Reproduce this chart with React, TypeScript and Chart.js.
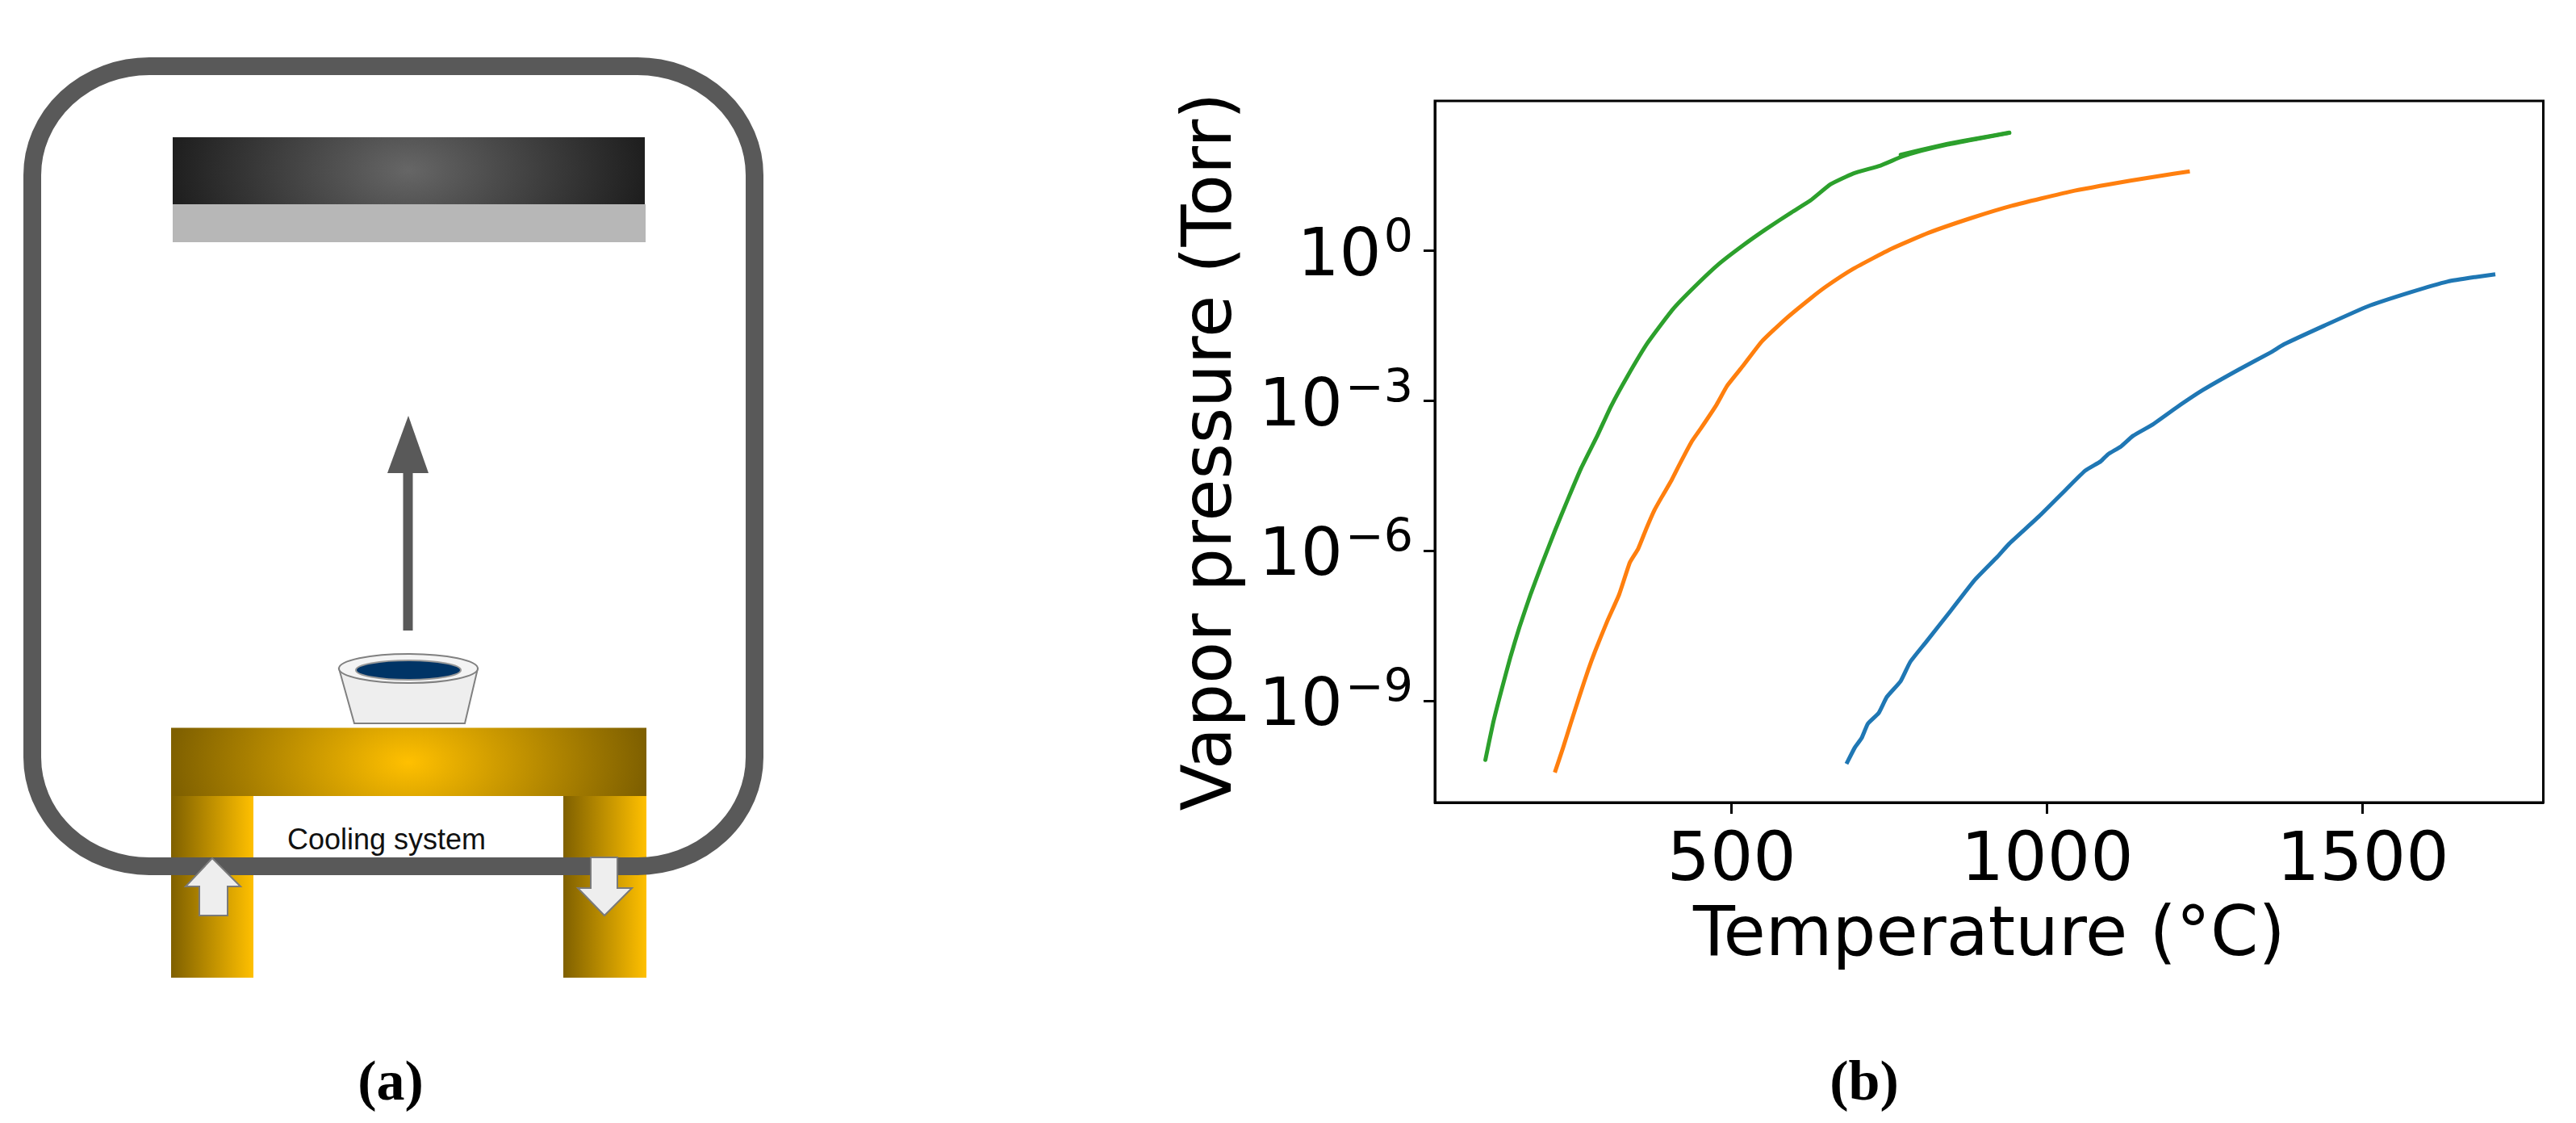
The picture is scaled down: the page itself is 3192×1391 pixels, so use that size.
import { useEffect, useRef } from "react"
import { Chart, registerables } from "chart.js"

Chart.register(...registerables)

const FONT = "'DejaVu Sans'"

// Temperature in °C, pressure in Torr
const blueTemps = [682, 695, 706, 716, 733, 746, 768, 783, 808, 847, 885, 921, 940, 987, 1030, 1060, 1085, 1096, 1117, 1136, 1166, 1205, 1247, 1303, 1354, 1375, 1439, 1507, 1575, 1635, 1678, 1710]
const bluePressures = [5.5e-11, 1.15e-10, 1.8e-10, 3.5e-10, 5.7e-10, 1.2e-9, 2.5e-9, 6.0e-9, 1.5e-8, 6.3e-8, 2.6e-7, 7.6e-7, 1.4e-6, 4.9e-6, 1.7e-5, 4.0e-5, 6.2e-5, 8.5e-5, 1.23e-4, 2.0e-4, 3.3e-4, 7.4e-4, 1.66e-3, 4.2e-3, 9.3e-3, 1.35e-2, 3.2e-2, 7.7e-2, 0.148, 0.245, 0.3, 0.34]

const orangeTemps = [220, 233, 245, 260, 273, 284, 303, 322, 339, 352, 365, 378, 390, 405, 418, 437, 452, 476, 493, 518, 548, 586, 625, 650, 693, 753, 812, 881, 944, 1038, 1132, 1200, 1226]
const orangePressures = [3.7e-11, 1.15e-10, 3.5e-10, 1.35e-9, 4.2e-9, 1.0e-8, 3.9e-8, 1.35e-7, 5.9e-7, 1.1e-6, 2.8e-6, 6.6e-6, 1.23e-5, 2.6e-5, 5.5e-5, 1.55e-4, 2.9e-4, 8.3e-4, 2.0e-3, 5.0e-3, 1.55e-2, 4.4e-2, 0.112, 0.195, 0.44, 1.1, 2.3, 4.6, 8.0, 15.5, 25.4, 35, 39]

const greenTemps = [110, 122, 135, 150, 164, 182, 199, 220, 241, 262, 288, 309, 335, 367, 407, 442, 480, 518, 554, 595, 625, 657, 693, 736, 770, 800, 842, 889, 940]
const greenPressures = [6.6e-11, 3.5e-10, 1.55e-9, 7.8e-9, 3.0e-8, 1.4e-7, 5.2e-7, 2.5e-6, 1.1e-5, 4.6e-5, 2.1e-4, 7.8e-4, 3.1e-3, 1.45e-2, 6.8e-2, 0.195, 0.55, 1.29, 2.7, 5.9, 10.2, 21.6, 35.5, 51, 77, 100, 134, 174, 229]

// the top end of the green curve is drawn twice in the original, so it looks heavier
const greenEndTemps = [768, 800, 842, 889, 940]
const greenEndPressures = [84, 105, 138, 178, 232]

const xTicks = [500, 1000, 1500]
const yTicks = [1, 1e-3, 1e-6, 1e-9]
const yExponents = ["0", "\u22123", "\u22126", "\u22129"]

const xTitle = "Temperature (°C)"
const yTitle = "Vapor pressure (Torr)"

const points = (xs: number[], ys: number[]) => xs.map((x, i) => ({ x, y: ys[i] }))

// top and right spines, and the 10^n labels with a real superscript
const framePlugin = {
  id: "frame",
  afterDraw(chart: any) {
    const { ctx, chartArea, scales } = chart
    ctx.save()
    ctx.strokeStyle = "#000"
    ctx.lineWidth = 3
    ctx.strokeRect(chartArea.left, chartArea.top, chartArea.right - chartArea.left, chartArea.bottom - chartArea.top)

    ctx.fillStyle = "#000"
    ctx.textAlign = "right"
    ctx.textBaseline = "alphabetic"
    yTicks.forEach((value, i) => {
      const y = scales.y.getPixelForValue(value)
      const right = chartArea.left - 27
      ctx.font = `57px ${FONT}`
      const expWidth = ctx.measureText(yExponents[i]).width
      ctx.fillText(yExponents[i], right, y + 1)
      ctx.font = `82px ${FONT}`
      ctx.fillText("10", right - expWidth - 3, y + 30)
    })
    ctx.restore()
  },
}

function VaporChart() {
  const chartRef = useRef<HTMLCanvasElement>(null)

  useEffect(() => {
    if (!chartRef.current) return

    const chart = new Chart(chartRef.current, {
      type: "line",
      data: {
        datasets: [
          { data: points(blueTemps, bluePressures), borderColor: "#1f77b4" },
          { data: points(orangeTemps, orangePressures), borderColor: "#ff7f0e" },
          { data: points(greenTemps, greenPressures), borderColor: "#2ca02c", borderCapStyle: "round" },
          { data: points(greenEndTemps, greenEndPressures), borderColor: "#2ca02c", borderCapStyle: "round", borderWidth: 5 },
        ],
      },
      options: {
        animation: false,
        responsive: false,
        devicePixelRatio: 1,
        layout: { padding: { top: 125, right: 40.5 } },
        elements: {
          point: { radius: 0 },
          line: { borderWidth: 5, tension: 0.15, borderCapStyle: "butt", borderJoinStyle: "round" },
        },
        plugins: { legend: { display: false }, tooltip: { enabled: false } },
        scales: {
          x: {
            type: "linear",
            min: 30,
            max: 1786,
            afterBuildTicks: (scale: any) => {
              scale.ticks = xTicks.map((value) => ({ value }))
            },
            afterFit: (scale: any) => {
              scale.height = 218
            },
            grid: { drawOnChartArea: false, color: "#000", tickLength: 14, tickWidth: 3 },
            border: { color: "#000", width: 3 },
            ticks: {
              color: "#000",
              padding: 10,
              maxRotation: 0,
              autoSkip: false,
              font: { family: FONT, size: 84 },
              callback: (value: any) => String(value),
            },
            title: {
              display: true,
              text: xTitle,
              color: "#000",
              padding: 0,
              font: { family: FONT, size: 85 },
            },
          },
          y: {
            type: "logarithmic",
            min: 9.3e-12,
            max: 1000,
            afterBuildTicks: (scale: any) => {
              scale.ticks = yTicks.map((value) => ({ value }))
            },
            afterFit: (scale: any) => {
              scale.width = 329
            },
            grid: { drawOnChartArea: false, color: "#000", tickLength: 14, tickWidth: 3 },
            border: { color: "#000", width: 3 },
            ticks: { display: false },
            title: {
              display: true,
              text: yTitle,
              color: "#000",
              padding: { top: 3 },
              font: { family: FONT, size: 85 },
            },
          },
        },
      },
      plugins: [framePlugin],
    })

    return () => chart.destroy()
  }, [])

  return <canvas ref={chartRef} width={1743} height={1212} style={{ position: "absolute", left: 1449, top: 0 }} />
}

// panel (a), the evaporation chamber drawing
function Chamber() {
  const line = "#595959"
  return (
    <svg width={1000} height={1300} style={{ position: "absolute", left: 0, top: 0 }}>
      <defs>
        <radialGradient id="substrate" gradientUnits="userSpaceOnUse" cx={506} cy={211} r={293} gradientTransform="translate(506 211) scale(1 0.6) translate(-506 -211)">
          <stop offset="0" stopColor="#666" />
          <stop offset="1" stopColor="#1f1f1f" />
        </radialGradient>
        <radialGradient id="stage" gradientUnits="userSpaceOnUse" cx={506} cy={944} r={295} gradientTransform="translate(506 944) scale(1 0.6) translate(-506 -944)">
          <stop offset="0" stopColor="#ffc000" />
          <stop offset="1" stopColor="#7f6000" />
        </radialGradient>
        <linearGradient id="leg">
          <stop offset="0" stopColor="#7f6000" />
          <stop offset="1" stopColor="#ffc000" />
        </linearGradient>
      </defs>

      <rect x={214} y={253} width={586} height={47} fill="#b7b7b7" />
      <rect x={214} y={170} width={585} height={83} fill="url(#substrate)" />

      <rect x={212} y={986} width={102} height={225} fill="url(#leg)" />
      <rect x={698} y={986} width={103} height={225} fill="url(#leg)" />
      <rect x={212} y={901.5} width={589} height={84.5} fill="url(#stage)" />

      <text x={356} y={1052} fontFamily="'Liberation Sans'" fontSize={36} fill="#111">Cooling system</text>

      <rect x={40} y={82} width={895} height={991} rx={145} ry={135} fill="none" stroke={line} strokeWidth={22} />

      <rect x={499.5} y={580} width={12} height={201} fill={line} />
      <polygon points="480,586 531,586 506,515" fill={line} />

      <path d="M420 828 L439 896 L576 896 L592 828 Z" fill="#eee" stroke="#808080" strokeWidth={2} />
      <ellipse cx={506} cy={828} rx={86} ry={18} fill="#f4f4f4" stroke="#808080" strokeWidth={2} />
      <ellipse cx={506} cy={830} rx={65} ry={12} fill="#003466" stroke="#999" strokeWidth={2} />

      <polygon points="263,1063 298,1098 282,1098 282,1134 247,1134 247,1098 230,1098" fill="#eee" stroke="#7a7a7a" strokeWidth={2} />
      <polygon points="732,1062 765,1062 765,1100 783,1100 749,1134 716,1100 732,1100" fill="#eee" stroke="#7a7a7a" strokeWidth={2} />
    </svg>
  )
}

const captionStyle = {
  position: "absolute",
  top: 1299,
  width: 200,
  textAlign: "center",
  fontFamily: "'Liberation Serif'",
  fontWeight: "bold",
  fontSize: 70,
  lineHeight: "80px",
  color: "#000",
} as const

export default function App() {
  return (
    <div style={{ position: "absolute", left: 0, top: 0, width: 3192, height: 1391, overflow: "hidden", background: "#fff" }}>
      <Chamber />
      <VaporChart />
      <div style={{ ...captionStyle, left: 384 }}>(a)</div>
      <div style={{ ...captionStyle, left: 2210 }}>(b)</div>
    </div>
  )
}
